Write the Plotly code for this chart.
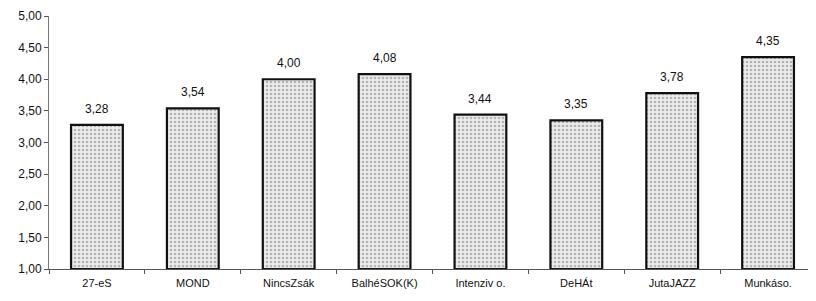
import plotly.graph_objects as go

categories = ["27-eS", "MOND", "NincsZsák", "BalhéSOK(K)", "Intenziv o.", "DeHÁt", "JutaJAZZ", "Munkáso."]
values = [3.28, 3.54, 4.00, 4.08, 3.44, 3.35, 3.78, 4.35]
y_ticks = [1.0, 1.5, 2.0, 2.5, 3.0, 3.5, 4.0, 4.5, 5.0]

base = 1.0
fig = go.Figure(go.Bar(
    x=categories,
    y=[v - base for v in values],
    base=base,
    width=0.54,
    marker=dict(
        color="#e6e6e6",
        line=dict(color="#111111", width=2.2),
        pattern=dict(shape=".", fgcolor="#7a7a7a", bgcolor="#ececec", size=4, solidity=0.35),
    ),
    hoverinfo="skip",
))

for c, v in zip(categories, values):
    fig.add_annotation(
        x=c, y=v, text=f"{v:.2f}".replace(".", ","), showarrow=False,
        yanchor="bottom", yshift=7,
        font=dict(family="Liberation Sans, Arial", size=12, color="#111111"),
    )

fig.update_layout(
    width=808, height=293,
    margin=dict(l=41, r=0, t=8, b=32),
    paper_bgcolor="white", plot_bgcolor="white",
    showlegend=False,
    separators=",.",
    font=dict(family="Liberation Sans, Arial", size=12, color="#111111"),
    xaxis=dict(
        showline=True, linecolor="#555555", linewidth=1,
        ticks="outside", tickson="boundaries", ticklen=4, tickcolor="#555555",
        showgrid=False, tickfont=dict(size=11), ticklabelstandoff=4,
    ),
    yaxis=dict(
        range=[1.0, 5.0], tickvals=y_ticks, tickformat=".2f",
        showline=True, linecolor="#777777", linewidth=1,
        ticks="outside", ticklen=4, tickcolor="#555555",
        showgrid=False, zeroline=False, tickfont=dict(size=12),
    ),
)

fig.write_html("out.html")
